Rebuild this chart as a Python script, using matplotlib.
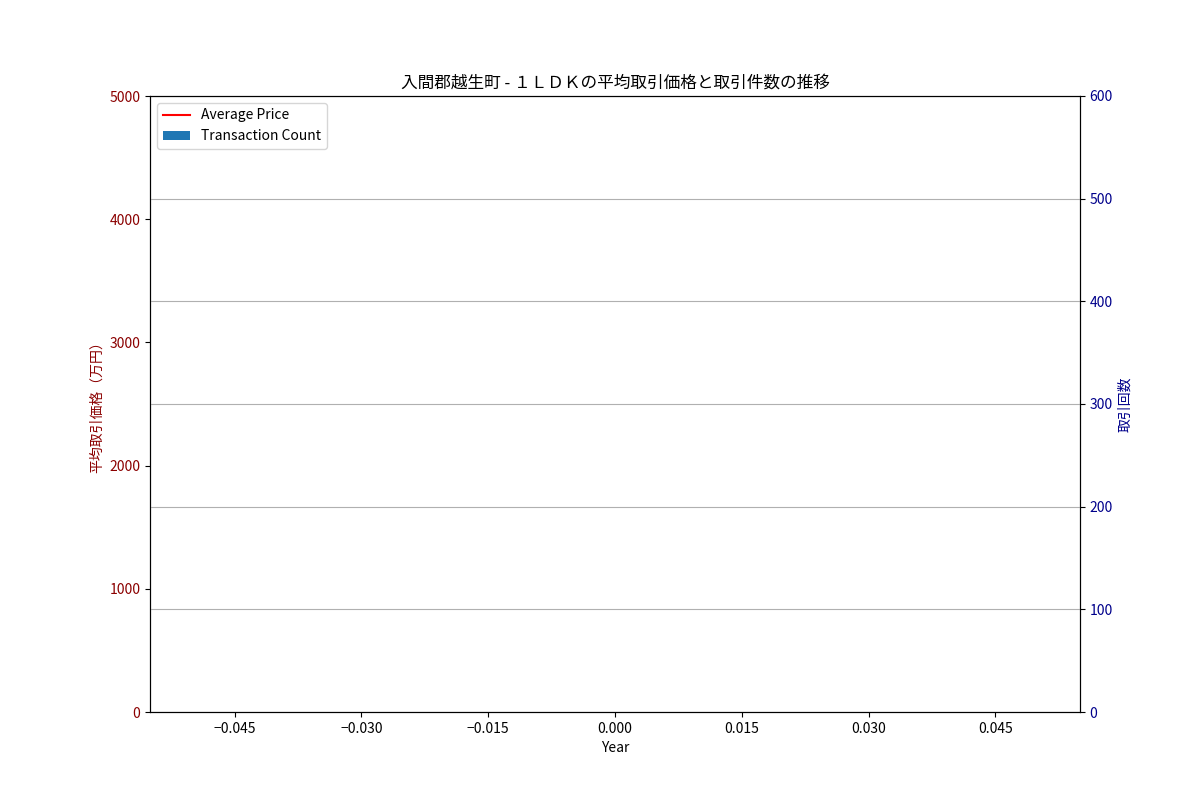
import numpy as np
import matplotlib
matplotlib.use("Agg")
import matplotlib.pyplot as plt
from matplotlib.ticker import MultipleLocator

plt.rcParams['font.family'] = ['Noto Sans CJK JP', 'DejaVu Sans']

# data (no transactions recorded for this area / layout)
years = []
avg_price = []
tx_count = []

fig, ax1 = plt.subplots(figsize=(12, 8), dpi=100)
ax2 = ax1.twinx()

bars = ax2.bar(years, tx_count, color='#1f77b4', label='Transaction Count')
line, = ax1.plot(years, avg_price, color='red', label='Average Price')

ax1.set_xlabel('Year')
ax1.set_ylabel('平均取引価格（万円）', color='darkred')
ax2.set_ylabel('取引回数', color='darkblue')
ax1.tick_params(axis='y', labelcolor='darkred')
ax2.tick_params(axis='y', labelcolor='darkblue')

ax1.xaxis.set_major_locator(MultipleLocator(0.015))
ax1.set_ylim(0, 5000)
ax2.set_ylim(0, 600)
ax2.grid(True, axis='y')

ax1.set_title('入間郡越生町 - １ＬＤＫの平均取引価格と取引件数の推移')
ax1.legend([line, bars], ['Average Price', 'Transaction Count'], loc='upper left')

plt.savefig('out.png')
